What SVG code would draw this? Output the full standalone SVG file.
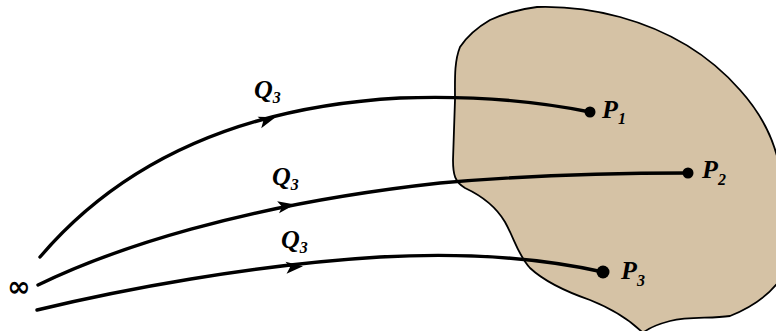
<svg xmlns="http://www.w3.org/2000/svg" width="776" height="331" viewBox="0 0 776 331">
<style>
.region{fill:#D5C2A5;stroke:#000;stroke-width:1.8}
.curve{fill:none;stroke:#000;stroke-width:3.4;stroke-linecap:round}
.dot{fill:#000}
.lbl{font-family:"Liberation Serif","Times New Roman",serif;font-style:italic;font-weight:bold;fill:#000}
.main{font-size:26px}
.sub{font-size:16px}
</style>
<defs>
<path id="arr" d="M9,0 L-8,-6 L-4,0 L-8,6 Z" fill="#000"/>
</defs>
<rect width="776" height="331" fill="#fff"/>
<g id="region">
<path class="region" d="M537,7 C570,6 598,11 620,17 C660,28 705,50 740,90 C758,110 772,135 778,160 L782,160 L782,277 C772,292 755,306 730,316 C710,319 690,316 670,321 C655,325 648,328 643,333 C630,320 610,308 590,300 C570,293 545,282 530,268 C518,255 515,240 505,222 C495,205 480,195 465,188 C455,182 453,175 453,160 L455,100 C455,80 454,62 460,47 C468,35 478,27 490,20 C505,13 520,9 537,7 Z"/>
</g>
<g id="connectors">
<path class="curve" d="M40,257 C110,175 220,108 400,98 C480,95 540,102 590,112"/>
<path class="curve" d="M38,285 C110,250 240,205 440,183 C520,176 600,173 688,173"/>
<path class="curve" d="M37,310 C120,290 250,265 380,257 C470,252 540,258 603,272"/>
<use href="#arr" transform="translate(267,120) rotate(-18)"/>
<use href="#arr" transform="translate(286,206) rotate(-9)"/>
<use href="#arr" transform="translate(294,267) rotate(-5)"/>
</g>
<g id="P1"><circle class="dot" cx="590" cy="112" r="5.5"/><text class="lbl main" x="602" y="118">P<tspan class="sub" dy="6">1</tspan></text></g>
<g id="P2"><circle class="dot" cx="688" cy="173" r="5.5"/><text class="lbl main" x="702" y="178">P<tspan class="sub" dy="7">2</tspan></text></g>
<g id="P3"><circle class="dot" cx="603" cy="272" r="6.5"/><text class="lbl main" x="621" y="279">P<tspan class="sub" dy="7">3</tspan></text></g>
<g id="labels">
<text class="lbl main" x="254" y="98">Q<tspan class="sub" dy="5">3</tspan></text>
<text class="lbl main" x="272" y="185">Q<tspan class="sub" dy="5">3</tspan></text>
<text class="lbl main" x="281" y="248">Q<tspan class="sub" dy="5">3</tspan></text>
<text x="7" y="296" style="font-family:'DejaVu Sans',sans-serif;font-size:28px;font-weight:bold">∞</text>
</g>
</svg>
